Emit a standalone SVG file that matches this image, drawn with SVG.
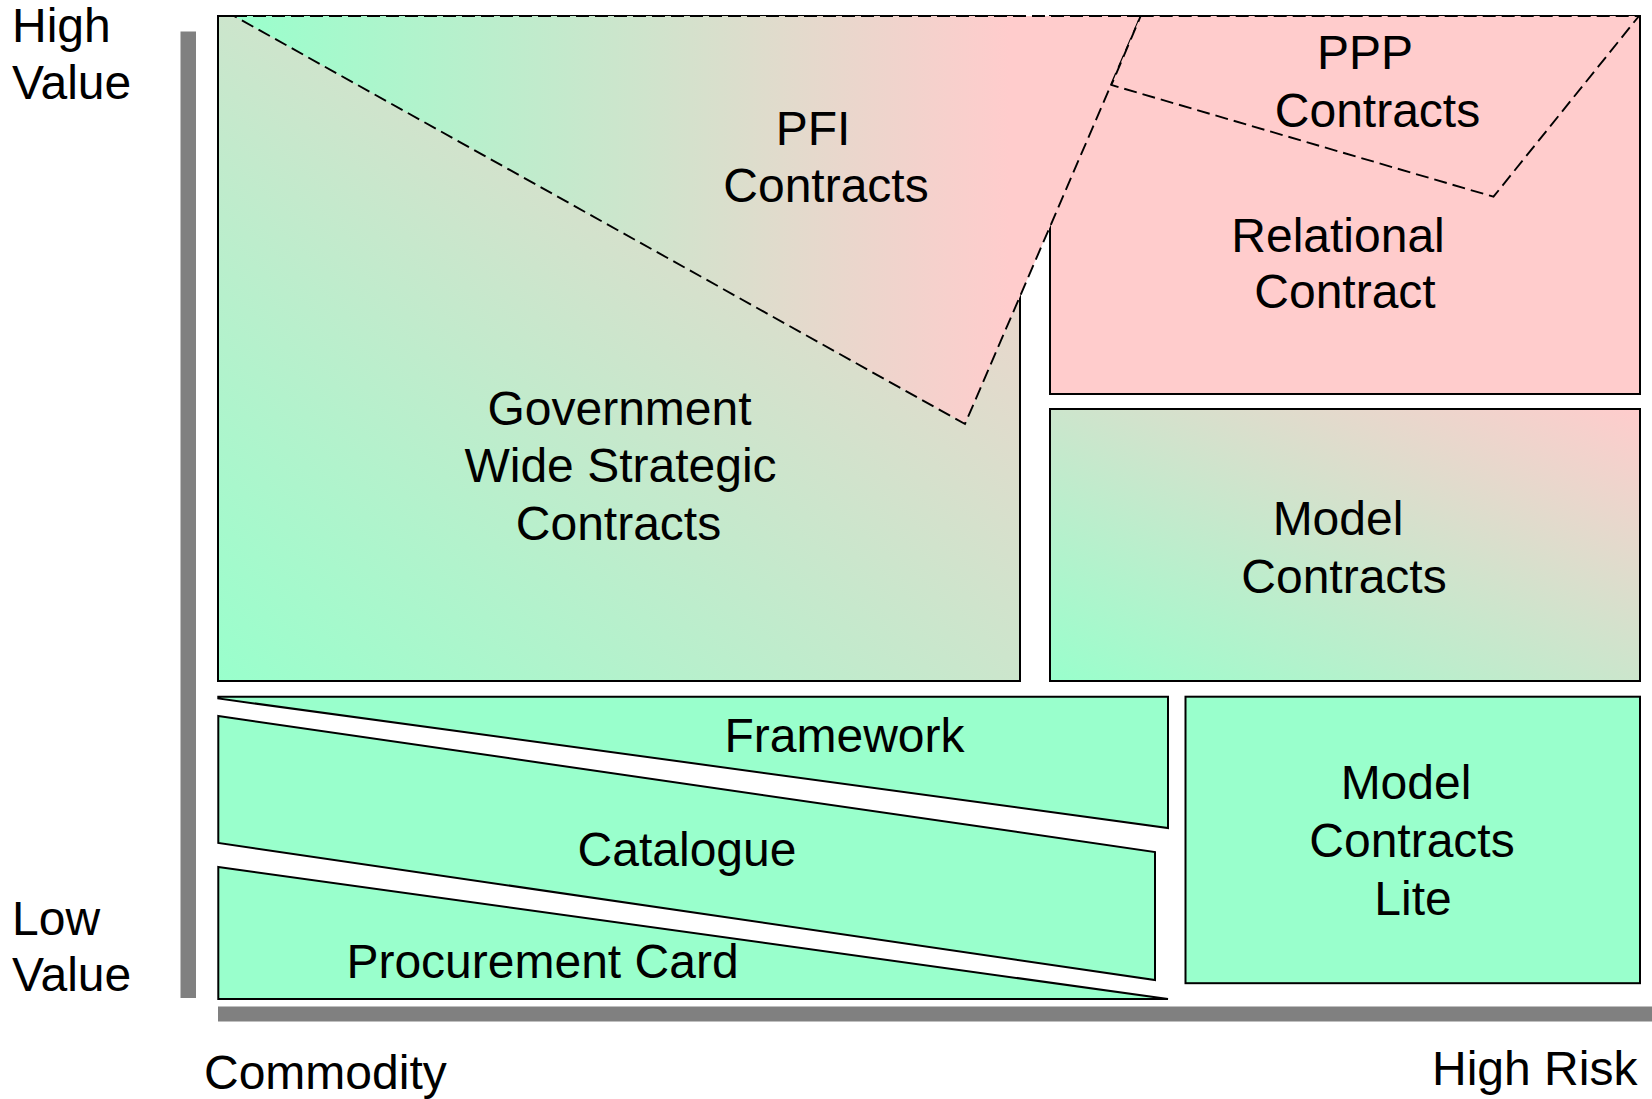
<svg xmlns="http://www.w3.org/2000/svg" width="1652" height="1099" viewBox="0 0 1652 1099">
  <style>
    .box { stroke: #000; stroke-width: 2; }
    .dash { stroke: #000; stroke-width: 1.9; stroke-dasharray: 13 6; }
    .green { fill: #99FFCC; }
    .pink { fill: #FFCCCC; }
    .axis { fill: #808080; }
    text { font-family: "Liberation Sans", Arial, sans-serif; font-size: 48px; fill: #000; }
    .mid { text-anchor: middle; }
  </style>
  <defs>
    <!-- diagonal blend: commodity green (bottom-left) to risk pink (top-right) -->
    <linearGradient id="diag" x1="0" y1="1" x2="1" y2="0">
      <stop offset="0" stop-color="#99FFCC"/>
      <stop offset="1" stop-color="#FFCCCC"/>
    </linearGradient>
    <!-- horizontal blend used for the PFI wedge -->
    <linearGradient id="horiz" gradientUnits="userSpaceOnUse" x1="234" y1="0" x2="1010" y2="0">
      <stop offset="0" stop-color="#99FFCC"/>
      <stop offset="1" stop-color="#FFCCCC"/>
    </linearGradient>
  </defs>

  <!-- axes -->
  <g id="axes">
    <rect class="axis" x="180.5" y="31.5" width="15.5" height="966.5"/>
    <rect class="axis" x="218" y="1006.5" width="1434" height="15"/>
    <text x="12" y="42">High</text>
    <text x="12" y="99">Value</text>
    <text x="12" y="935">Low</text>
    <text x="12" y="991">Value</text>
    <text x="204" y="1089">Commodity</text>
    <text x="1432" y="1085">High Risk</text>
  </g>

  <!-- contract regions -->
  <g id="gov-wide">
    <rect class="box" x="218" y="16" width="802" height="665" fill="url(#diag)"/>
    <text class="mid" x="619.5" y="425">Government</text>
    <text class="mid" x="620.5" y="482">Wide Strategic</text>
    <text class="mid" x="618.5" y="540">Contracts</text>
  </g>

  <g id="relational">
    <rect class="box pink" x="1050" y="16" width="590" height="378"/>
    <text class="mid" x="1338" y="252">Relational</text>
    <text class="mid" x="1345" y="308">Contract</text>
  </g>

  <g id="model">
    <rect class="box" x="1050" y="409" width="590" height="272" fill="url(#diag)"/>
    <text class="mid" x="1338" y="535">Model</text>
    <text class="mid" x="1344" y="593">Contracts</text>
  </g>

  <g id="framework">
    <polygon class="box green" points="218.3,696.7 1168,696.7 1168,828 218.3,698.5"/>
    <text class="mid" x="844.5" y="752">Framework</text>
  </g>

  <g id="catalogue">
    <polygon class="box green" points="218.3,716 1155,852 1155,980 218.3,843"/>
    <text class="mid" x="687" y="866">Catalogue</text>
  </g>

  <g id="procurement-card">
    <polygon class="box green" points="218.3,867 1168,999 218.3,999"/>
    <text class="mid" x="542.5" y="978">Procurement Card</text>
  </g>

  <g id="model-lite">
    <rect class="box green" x="1185.5" y="696.7" width="454.5" height="286.5"/>
    <text class="mid" x="1406" y="799">Model</text>
    <text class="mid" x="1412" y="857">Contracts</text>
    <text class="mid" x="1413" y="915">Lite</text>
  </g>

  <!-- dashed overlay regions -->
  <g id="pfi">
    <polygon class="dash" fill="url(#horiz)" points="234,16 1140.7,16 965,424"/>
    <text class="mid" x="813" y="145">PFI</text>
    <text class="mid" x="826" y="202">Contracts</text>
  </g>

  <g id="ppp">
    <polygon class="dash pink" points="1140.7,16 1639,16 1493.5,196.7 1111.4,85"/>
    <text class="mid" x="1365" y="69">PPP</text>
    <text class="mid" x="1377.5" y="127">Contracts</text>
  </g>
</svg>
